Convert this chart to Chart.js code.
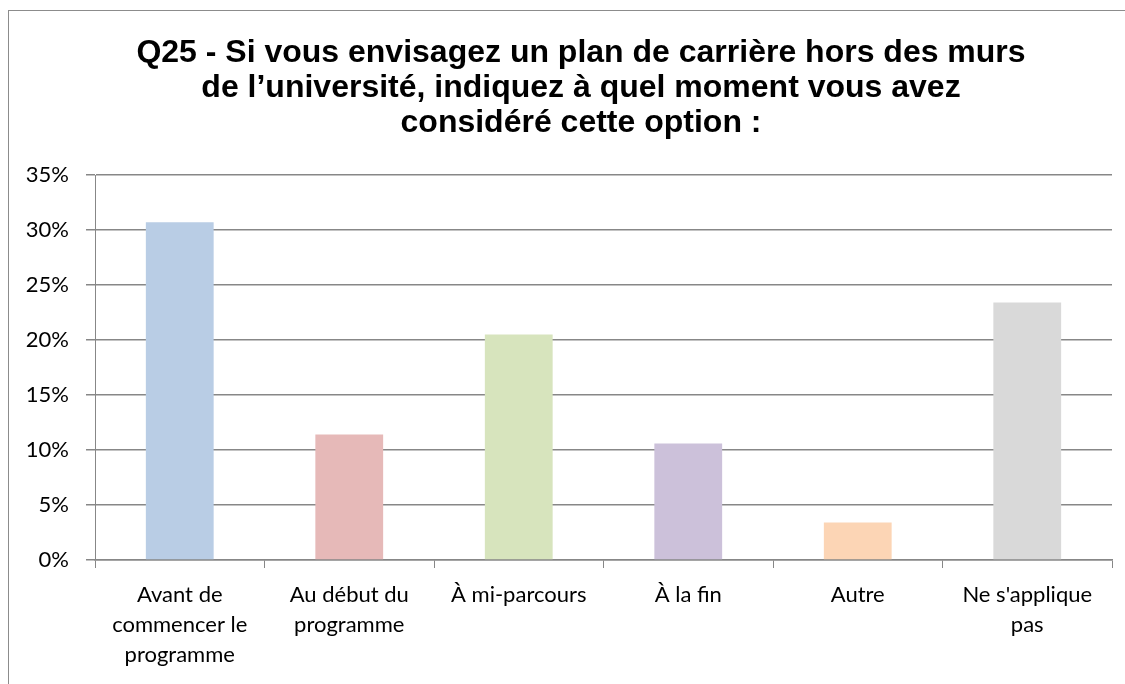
<!DOCTYPE html>
<html>
<head>
<meta charset="utf-8">
<script src="https://cdn.jsdelivr.net/npm/chart.js@4/dist/chart.umd.min.js"></script>
<style>
    html, body { margin: 0; padding: 0; background: #fff; overflow: hidden; width: 1125px; height: 684px; }
    #frame { position: absolute; left: 8px; top: 10px; width: 1200px; height: 700px; border: 1px solid #8c8c8c; }
    #wrap { position: absolute; left: 0; top: 0; width: 1160px; height: 684px; }
</style>
</head>
<body>
<div id="frame"></div>
<div id="wrap"><canvas id="q25Chart"></canvas></div>
<script>
// Chart data
const titleLines = [
    'Q25 - Si vous envisagez un plan de carrière hors des murs',
    'de l\u2019université, indiquez à quel moment vous avez',
    'considéré cette option :'
];
const categories = [
    ['Avant de', 'commencer le', 'programme'],
    ['Au début du', 'programme'],
    'À mi-parcours',
    'À la fin',
    'Autre',
    ['Ne s\'applique', 'pas']
];
const percentages = [30.7, 11.4, 20.5, 10.6, 3.4, 23.4];
const barColors = ['#B9CDE5', '#E6B9B8', '#D7E4BD', '#CCC1DA', '#FCD5B5', '#D9D9D9'];
const yTicksMax = 35;
const yTicksStep = 5;

const ctx = document.getElementById('q25Chart').getContext('2d');

const q25Chart = new Chart(ctx, {
    type: 'bar',
    data: {
        labels: categories,
        datasets: [{
            data: percentages,
            backgroundColor: barColors,
            borderWidth: 0,
            categoryPercentage: 1,
            barPercentage: 0.4
        }]
    },
    options: {
        responsive: true,
        maintainAspectRatio: false,
        animation: false,
        layout: {
            padding: { top: 10, left: 20, right: 18, bottom: 0 }
        },
        plugins: {
            legend: { display: false },
            tooltip: { enabled: false },
            title: {
                display: true,
                text: titleLines,
                color: '#000',
                font: { family: '"Liberation Sans", Arial, sans-serif', size: 32, weight: 'bold', lineHeight: 35 / 32 },
                padding: { top: 26, bottom: 34 }
            }
        },
        scales: {
            y: {
                min: 0,
                max: yTicksMax,
                afterFit: function(scale) {
                    scale.width = 75;
                },
                ticks: {
                    stepSize: yTicksStep,
                    padding: 17,
                    color: '#000',
                    font: { family: 'Lato, "Open Sans", sans-serif', size: 22 },
                    callback: function(value) {
                        return value + '%';
                    }
                },
                grid: {
                    color: '#878787',
                    lineWidth: 1.5,
                    tickLength: 9
                },
                border: { color: '#878787', width: 1 }
            },
            // empty right axis, only keeps space so the title sits where it should
            yRight: {
                position: 'right',
                afterFit: function(scale) {
                    scale.width = 30;
                },
                ticks: { display: false },
                grid: { display: false },
                border: { display: false }
            },
            x: {
                afterFit: function(scale) {
                    scale.height = 124;
                },
                ticks: {
                    padding: 12,
                    color: '#000',
                    maxRotation: 0,
                    autoSkip: false,
                    font: { family: 'Lato, "Open Sans", sans-serif', size: 22, lineHeight: 30 / 22 }
                },
                grid: {
                    drawOnChartArea: false,
                    color: '#878787',
                    tickLength: 8
                },
                border: { color: '#878787', width: 1.5 }
            }
        }
    }
});
</script>
</body>
</html>
